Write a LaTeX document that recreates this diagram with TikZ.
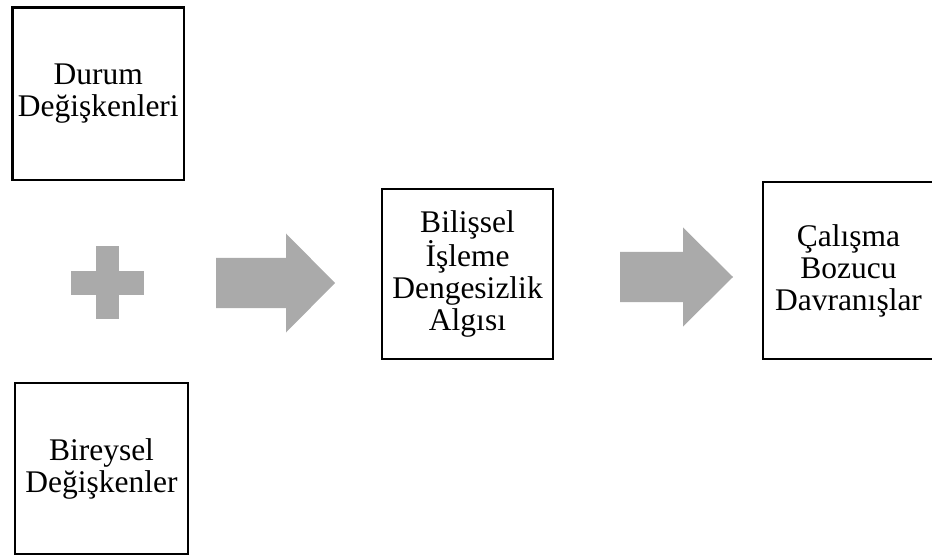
\documentclass[tikz,border=0pt]{standalone}
\usepackage{fontspec}
\setmainfont{Liberation Serif}
\usetikzlibrary{positioning}
\tikzset{
  font={\fontsize{31.5pt}{32pt}\selectfont}
}
\def\lineColor{black}
\def\boxLine{2.4pt}
\definecolor{shapeGray}{RGB}{170,170,170}
\tikzstyle{box}=[rectangle,draw=\lineColor,line width=\boxLine,align=center,inner sep=0pt]
\tikzstyle{blockarrow}=[fill=shapeGray,draw=none]
% block arrow: shaft start, head start, tip, middle y, shaft half height, head half height
\newcommand{\blockArrow}[6]{
    \fill[blockarrow] (#1,#4-#5) -- (#2,#4-#5) -- (#2,#4-#6) -- (#3,#4)
        -- (#2,#4+#6) -- (#2,#4+#5) -- (#1,#4+#5) -- cycle;
}

\begin{document}
\begin{tikzpicture}[x=1pt,y=-1pt]
    \useasboundingbox (0,0) rectangle (932,556);

    \node[box,minimum width=171.5,minimum height=172.5] (durum) at (98.25,93.75) {Durum\\Değişkenleri};
    \node[box,minimum width=173,minimum height=171] (bireysel) at (101.5,468.5) {Bireysel\\Değişkenler};
    \node[box,minimum width=171,minimum height=170] (bilissel) at (467.5,274) {Bilişsel\\İşleme\\Dengesizlik\\Algısı};
    \node[box,minimum width=171,minimum height=177] (davranis) at (848.5,270.5) {Çalışma\\Bozucu\\Davranışlar};

    % plus sign
    \fill[blockarrow] (96,246) rectangle (119,319);
    \fill[blockarrow] (71,271) rectangle (144,295);

    % arrows
    \blockArrow{216}{286}{335}{283}{25}{49.5}
    \blockArrow{620}{683}{733}{277}{25}{49.5}
\end{tikzpicture}
\end{document}
